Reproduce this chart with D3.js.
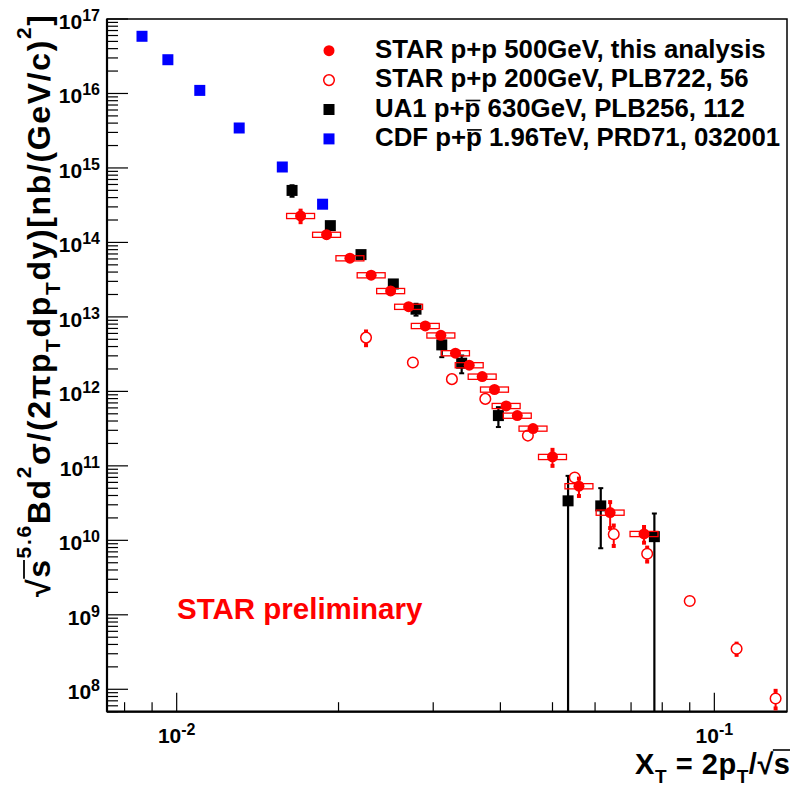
<!DOCTYPE html>
<html>
<head>
<meta charset="utf-8">
<script src="https://d3js.org/d3.v7.min.js"></script>
<style>
  body { margin: 0; background: #fff; }
  text { font-family: "Liberation Sans", Arial, sans-serif; font-weight: bold; }
</style>
</head>
<body>
<script>
// STAR p+p 500 GeV, this analysis (stat + sys)
var star500X    = [0.017, 0.019, 0.021, 0.023, 0.025, 0.027, 0.029, 0.031, 0.033, 0.035, 0.037, 0.039, 0.041, 0.043, 0.046, 0.050, 0.056, 0.064, 0.074];
var star500Y    = [2.27e14, 1.27e14, 6.14e13, 3.63e13, 2.23e13, 1.37e13, 7.57e12, 5.65e12, 3.26e12, 2.25e12, 1.58e12, 1.06e12, 6.38e11, 4.73e11, 3.17e11, 1.32e11, 5.34e10, 2.36e10, 1.22e10];
var star500Stat = [0.40e14, 0.06e14, 0.25e13, 0.15e13, 0.09e13, 0.06e13, 0.30e12, 0.25e12, 0.14e12, 0.10e12, 0.07e12, 0.05e12, 0.30e11, 0.25e11, 0.20e11, 0.32e11, 1.40e10, 0.90e10, 0.29e10];
var star500Sys  = [1.8e13, 1.0e13, 4.9e12, 2.9e12, 1.8e12, 1.1e12, 6.1e11, 4.5e11, 2.6e11, 1.8e11, 1.3e11, 8.5e10, 5.1e10, 3.8e10, 2.5e10, 1.06e10, 4.3e9, 1.9e9, 9.8e8];

// STAR p+p 200 GeV, PLB722, 56
var star200X   = [0.0225, 0.0275, 0.0325, 0.0375, 0.045, 0.055, 0.065, 0.075, 0.09, 0.11, 0.13];
var star200Y   = [5.27e12, 2.44e12, 1.46e12, 7.93e11, 2.55e11, 6.97e10, 1.21e10, 6.59e9, 1.53e9, 3.5e8, 7.53e7];
var star200Err = [1.1e12, 0.1e12, 0.06e12, 0.3e11, 0.1e11, 0.3e10, 3.7e9, 1.4e9, 0.06e9, 0.6e8, 2.0e7];

// UA1 p+pbar 630 GeV, PLB256, 112
var ua1X   = [0.01639, 0.01931, 0.02202, 0.02529, 0.02787, 0.03112, 0.03389, 0.03966, 0.05345, 0.06148, 0.07735];
var ua1Y   = [4.99e14, 1.68e14, 6.86e13, 2.77e13, 1.27e13, 4.21e12, 2.39e12, 4.73e11, 3.39e10, 2.90e10, 1.12e10];
var ua1Err = [0.87e14, 0.1e14, 0.4e13, 0.15e13, 0.23e13, 1.33e12, 0.64e12, 1.41e11, 3.95e10, 2.12e10, 1.17e10];

// CDF p+pbar 1.96 TeV, PRD71, 032001
var cdfX = [0.00862, 0.00963, 0.01104, 0.01307, 0.01572, 0.01868];
var cdfY = [5.86e16, 2.84e16, 1.10e16, 3.44e15, 1.03e15, 3.26e14];

var xTickExp = [-2, -1];
var yTickExp = [8, 9, 10, 11, 12, 13, 14, 15, 16, 17];

var W = 792, H = 790;
var pLeft = 107, pRight = 787, pTop = 19, pBottom = 711.7;
var red = "#ff0000", blue = "#0000ff";

var x = d3.scaleLog().domain([0.00742, 0.1365]).range([pLeft, pRight]);
var y = d3.scaleLog().domain([5e7, 1e17]).range([pBottom, pTop]);

var svg = d3.select("body").append("svg")
    .attr("width", W)
    .attr("height", H);

svg.append("defs").append("clipPath").attr("id", "plotclip")
  .append("rect")
    .attr("x", pLeft).attr("y", pTop)
    .attr("width", pRight - pLeft).attr("height", pBottom - pTop);

// text with super/subscripts; "over" parts get a bar drawn above them afterwards
function rich(sel, parts, size, supSize, supShift, subShift) {
  var cur = 0, n = 0, overs = [];
  parts.forEach(function (p) {
    var k = p[1] || "n";
    var target = k == "sup" ? -supShift : (k == "sub" ? subShift : 0);
    sel.append("tspan")
        .attr("dy", target - cur)
        .style("font-size", (k == "sup" || k == "sub" ? supSize : size) + "px")
        .text(p[0]);
    if (k == "over") overs.push([n, n + p[0].length - 1]);
    n += p[0].length;
    cur = target;
  });
  return overs;
}
function overbar(parent, textSel, overs, yBar, x0pad, width) {
  var node = textSel.node();
  overs.forEach(function (o) {
    var a = node.getExtentOfChar(o[0]), b = node.getExtentOfChar(o[1]);
    parent.append("line")
        .attr("x1", a.x + x0pad).attr("x2", b.x + b.width)
        .attr("y1", yBar).attr("y2", yBar)
        .attr("stroke", textSel.attr("fill") || "#000").attr("stroke-width", width);
  });
}

// ticks
var ax = svg.append("g").attr("stroke", "#000").attr("stroke-width", 1.2);
yTickExp.forEach(function (e) {
  var v = Math.pow(10, e);
  ax.append("line").attr("x1", pLeft).attr("x2", pLeft + 21).attr("y1", y(v)).attr("y2", y(v));
  for (var k = 2; k <= 9; k++) {
    var m = k * Math.pow(10, e - 1);
    if (m < y.domain()[0]) continue;
    ax.append("line").attr("x1", pLeft).attr("x2", pLeft + 11).attr("y1", y(m)).attr("y2", y(m));
  }
});
[0.008, 0.009, 0.02, 0.03, 0.04, 0.05, 0.06, 0.07, 0.08, 0.09].forEach(function (m) {
  ax.append("line").attr("x1", x(m)).attr("x2", x(m)).attr("y1", pBottom).attr("y2", pBottom - 9.5);
});
xTickExp.forEach(function (e) {
  var v = Math.pow(10, e);
  ax.append("line").attr("x1", x(v)).attr("x2", x(v)).attr("y1", pBottom).attr("y2", pBottom - 19);
});

// frame
svg.append("rect")
    .attr("x", pLeft).attr("y", pTop)
    .attr("width", pRight - pLeft).attr("height", pBottom - pTop)
    .attr("fill", "none").attr("stroke", "#000").attr("stroke-width", 1.5);
svg.append("line").attr("x1", pLeft).attr("x2", pLeft).attr("y1", pTop).attr("y2", pBottom)
    .attr("stroke", "#000").attr("stroke-width", 2.2);
svg.append("line").attr("x1", pLeft).attr("x2", pRight).attr("y1", pBottom).attr("y2", pBottom)
    .attr("stroke", "#000").attr("stroke-width", 2.2);

// tick labels
yTickExp.forEach(function (e) {
  var t = svg.append("text")
      .attr("x", 100).attr("y", y(Math.pow(10, e)) + 10)
      .attr("text-anchor", "end");
  rich(t, [["10"], [String(e), "sup"]], 21, 16, 8, 0);
});
xTickExp.forEach(function (e) {
  var t = svg.append("text")
      .attr("x", x(Math.pow(10, e))).attr("y", 743)
      .attr("text-anchor", "middle");
  rich(t, [["10"], [String(e), "sup"]], 21, 16, 8, 0);
});

// axis titles
var ytg = svg.append("g").attr("transform", "translate(50,597) rotate(-90)");
var yt = ytg.append("text")
    .attr("textLength", 582).attr("lengthAdjust", "spacing");
var yOv = rich(yt, [["\u221A"], ["s", "over"], ["5.6", "sup"], ["Bd"], ["2", "sup"], ["\u03C3/(2\u03C0p"], ["T", "sub"],
          ["dp"], ["T", "sub"], ["dy)[nb/(GeV/c)"], ["2", "sup"], ["]"]], 32, 21, 19, 10);
overbar(ytg, yt, yOv, -26, -1, 1.8);

var xtg = svg.append("g");
var xt = xtg.append("text")
    .attr("x", 790).attr("y", 774)
    .attr("text-anchor", "end")
    .attr("textLength", 155).attr("lengthAdjust", "spacing");
var xOv = rich(xt, [["X"], ["T", "sub"], [" = 2p"], ["T", "sub"], ["/\u221A"], ["s", "over"]], 29, 19, 13, 9);
overbar(xtg, xt, xOv, 774 - 24, -1, 1.6);

svg.append("text")
    .attr("x", 177).attr("y", 619)
    .attr("fill", red)
    .style("font-size", "29.5px")
    .text("STAR preliminary");

// data
var plot = svg.append("g").attr("clip-path", "url(#plotclip)");
var ymin = y.domain()[0] * 0.5;

// CDF
plot.selectAll(".cdf").data(d3.range(cdfX.length)).enter().append("rect")
    .attr("x", function (i) { return x(cdfX[i]) - 5.5; })
    .attr("y", function (i) { return y(cdfY[i]) - 5.5; })
    .attr("width", 11).attr("height", 11)
    .attr("fill", blue);

// UA1
var ua = plot.selectAll(".ua1").data(d3.range(ua1X.length)).enter().append("g");
ua.append("line")
    .attr("x1", function (i) { return x(ua1X[i]); })
    .attr("x2", function (i) { return x(ua1X[i]); })
    .attr("y1", function (i) { return y(Math.max(ua1Y[i] - ua1Err[i], ymin)); })
    .attr("y2", function (i) { return y(ua1Y[i] + ua1Err[i]); })
    .attr("stroke", "#000").attr("stroke-width", 2.2);
ua.append("line")
    .attr("x1", function (i) { return x(ua1X[i]) - 2.5; })
    .attr("x2", function (i) { return x(ua1X[i]) + 2.5; })
    .attr("y1", function (i) { return y(ua1Y[i] + ua1Err[i]); })
    .attr("y2", function (i) { return y(ua1Y[i] + ua1Err[i]); })
    .attr("stroke", "#000").attr("stroke-width", 2);
ua.filter(function (i) { return ua1Y[i] - ua1Err[i] > 0; }).append("line")
    .attr("x1", function (i) { return x(ua1X[i]) - 2.5; })
    .attr("x2", function (i) { return x(ua1X[i]) + 2.5; })
    .attr("y1", function (i) { return y(ua1Y[i] - ua1Err[i]); })
    .attr("y2", function (i) { return y(ua1Y[i] - ua1Err[i]); })
    .attr("stroke", "#000").attr("stroke-width", 2);
ua.append("rect")
    .attr("x", function (i) { return x(ua1X[i]) - 5.5; })
    .attr("y", function (i) { return y(ua1Y[i]) - 5.5; })
    .attr("width", 11).attr("height", 11)
    .attr("fill", "#000");

// STAR 200
var s2 = plot.selectAll(".s200").data(d3.range(star200X.length)).enter().append("g");
s2.append("line")
    .attr("x1", function (i) { return x(star200X[i]); })
    .attr("x2", function (i) { return x(star200X[i]); })
    .attr("y1", function (i) { return y(star200Y[i] - star200Err[i]); })
    .attr("y2", function (i) { return y(star200Y[i] + star200Err[i]); })
    .attr("stroke", red).attr("stroke-width", 2);
s2.selectAll(".cap").data(function (i) { return [star200Y[i] - star200Err[i], star200Y[i] + star200Err[i]].map(function (v) { return [i, v]; }); })
  .enter().append("rect")
    .attr("x", function (d) { return x(star200X[d[0]]) - 2; })
    .attr("y", function (d) { return y(d[1]) - 2; })
    .attr("width", 4).attr("height", 4).attr("fill", red);
s2.append("circle")
    .attr("cx", function (i) { return x(star200X[i]); })
    .attr("cy", function (i) { return y(star200Y[i]); })
    .attr("r", 5.3)
    .attr("fill", "#fff").attr("stroke", red).attr("stroke-width", 1.5);

// STAR 500: systematic boxes, stat bars, markers
var boxHalfDex = 0.026;
var s5 = plot.selectAll(".s500").data(d3.range(star500X.length)).enter().append("g");
s5.append("rect")
    .attr("x", function (i) { return x(star500X[i] / Math.pow(10, boxHalfDex)); })
    .attr("y", function (i) { return y(star500Y[i] + star500Sys[i]); })
    .attr("width", function (i) { return x(star500X[i] * Math.pow(10, boxHalfDex)) - x(star500X[i] / Math.pow(10, boxHalfDex)); })
    .attr("height", function (i) { return y(star500Y[i] - star500Sys[i]) - y(star500Y[i] + star500Sys[i]); })
    .attr("fill", "none").attr("stroke", red).attr("stroke-width", 1.3);
s5.append("line")
    .attr("x1", function (i) { return x(star500X[i]); })
    .attr("x2", function (i) { return x(star500X[i]); })
    .attr("y1", function (i) { return y(star500Y[i] - star500Stat[i]); })
    .attr("y2", function (i) { return y(star500Y[i] + star500Stat[i]); })
    .attr("stroke", red).attr("stroke-width", 2);
s5.selectAll(".cap").data(function (i) { return [star500Y[i] - star500Stat[i], star500Y[i] + star500Stat[i]].map(function (v) { return [i, v]; }); })
  .enter().append("rect")
    .attr("x", function (d) { return x(star500X[d[0]]) - 2; })
    .attr("y", function (d) { return y(d[1]) - 2; })
    .attr("width", 4).attr("height", 4).attr("fill", red);
s5.append("circle")
    .attr("cx", function (i) { return x(star500X[i]); })
    .attr("cy", function (i) { return y(star500Y[i]); })
    .attr("r", 5.5)
    .attr("fill", red);

// legend
var legend = [
  { kind: "filled", parts: [["STAR p+p 500GeV, this analysis"]] },
  { kind: "open", parts: [["STAR p+p 200GeV, PLB722, 56"]] },
  { kind: "black", parts: [["UA1 p+"], ["p", "over"], [" 630GeV, PLB256, 112"]] },
  { kind: "blue", parts: [["CDF p+"], ["p", "over"], [" 1.96TeV, PRD71, 032001"]] }
];
var lg = svg.append("g");
legend.forEach(function (e, i) {
  var ly = 50.7 + i * 29.4;
  if (e.kind == "filled") lg.append("circle").attr("cx", 329).attr("cy", ly).attr("r", 5.5).attr("fill", red);
  if (e.kind == "open") lg.append("circle").attr("cx", 329).attr("cy", ly).attr("r", 5.3)
      .attr("fill", "none").attr("stroke", red).attr("stroke-width", 1.5);
  if (e.kind == "black" || e.kind == "blue") lg.append("rect")
      .attr("x", 323.5).attr("y", ly - 5.5).attr("width", 11).attr("height", 11)
      .attr("fill", e.kind == "black" ? "#000" : blue);
  var t = lg.append("text").attr("x", 375).attr("y", ly + 7);
  var ov = rich(t, e.parts, 25.8, 25.8, 0, 0);
  overbar(lg, t, ov, ly + 7 - 16, 1, 1.6);
});
</script>
</body>
</html>
